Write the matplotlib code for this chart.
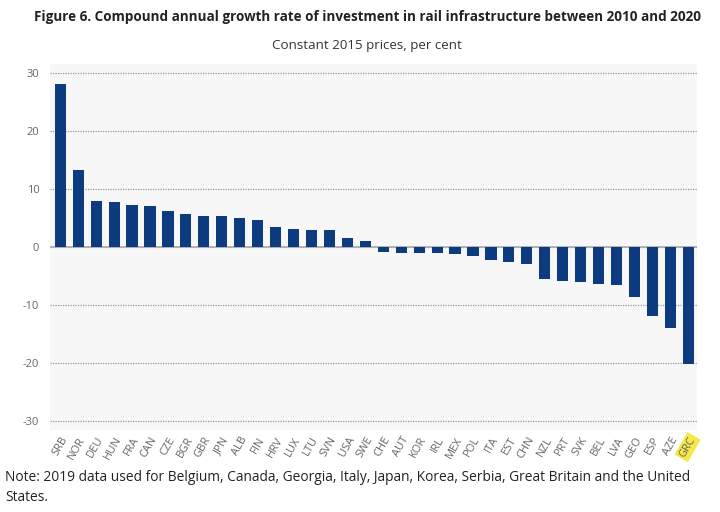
import matplotlib.pyplot as plt
import numpy as np

countries = ['SRB', 'NOR', 'DEU', 'HUN', 'FRA', 'CAN', 'CZE', 'BGR', 'GBR', 'JPN',
             'ALB', 'FIN', 'HRV', 'LUX', 'LTU', 'SVN', 'USA', 'SWE', 'CHE', 'AUT',
             'KOR', 'IRL', 'MEX', 'POL', 'ITA', 'EST', 'CHN', 'NZL', 'PRT', 'SVK',
             'BEL', 'LVA', 'GEO', 'ESP', 'AZE', 'GRC']
cagr = [28.0, 13.2, 7.9, 7.7, 7.3, 7.0, 6.2, 5.6, 5.4, 5.3,
        5.0, 4.6, 3.5, 3.1, 3.0, 2.9, 1.5, 1.1, -0.9, -1.0,
        -1.0, -1.0, -1.2, -1.6, -2.3, -2.6, -3.0, -5.5, -5.9, -6.1,
        -6.4, -6.5, -8.6, -11.9, -14.0, -20.2]
highlight = 'GRC'

plt.rcParams['font.family'] = ['Open Sans', 'DejaVu Sans']
plt.rcParams['axes.unicode_minus'] = False

fig = plt.figure(figsize=(7.2, 5.12), dpi=100)
ax = fig.add_axes([0.07, 0.16, 0.898, 0.715])
ax.set_facecolor('#f7f7f7')

x = np.arange(len(countries))
ax.bar(x, cagr, width=0.62, color='#0c3c7f', zorder=3)

ax.set_xlim(-0.55, len(countries) - 0.52)
ax.set_ylim(-31.5, 31.5)
ax.set_yticks([30, 20, 10, 0, -10, -20, -30])
ax.yaxis.grid(True, linestyle=(0, (1, 1)), color='#999999', linewidth=0.9, zorder=1)
ax.axhline(0, color='#aaaaaa', linewidth=1.2, zorder=2)
for s in ax.spines.values():
    s.set_visible(False)
ax.tick_params(axis='both', length=0, colors='#666666', labelsize=8)
ax.tick_params(axis='y', pad=8)

ax.set_xticks(x)
ax.set_xticklabels(countries, rotation=60, ha='right', rotation_mode='anchor')
for lbl in ax.get_xticklabels():
    if lbl.get_text() == highlight:
        lbl.set_bbox(dict(facecolor='#f7e84a', edgecolor='none', pad=1.5))

fig.text(0.51, 0.966, 'Figure 6. Compound annual growth rate of investment in rail infrastructure between 2010 and 2020',
         ha='center', va='center', fontsize=9.75, fontweight='bold', color='#222222')
fig.text(0.51, 0.912, 'Constant 2015 prices, per cent', ha='center', va='center',
         fontsize=9.6, color='#333333')
fig.text(0.007, 0.048, 'Note: 2019 data used for Belgium, Canada, Georgia, Italy, Japan, Korea, Serbia, Great Britain and the United\nStates.',
         ha='left', va='center', fontsize=9.9, color='#222222', linespacing=1.38)

plt.savefig('out.png')
